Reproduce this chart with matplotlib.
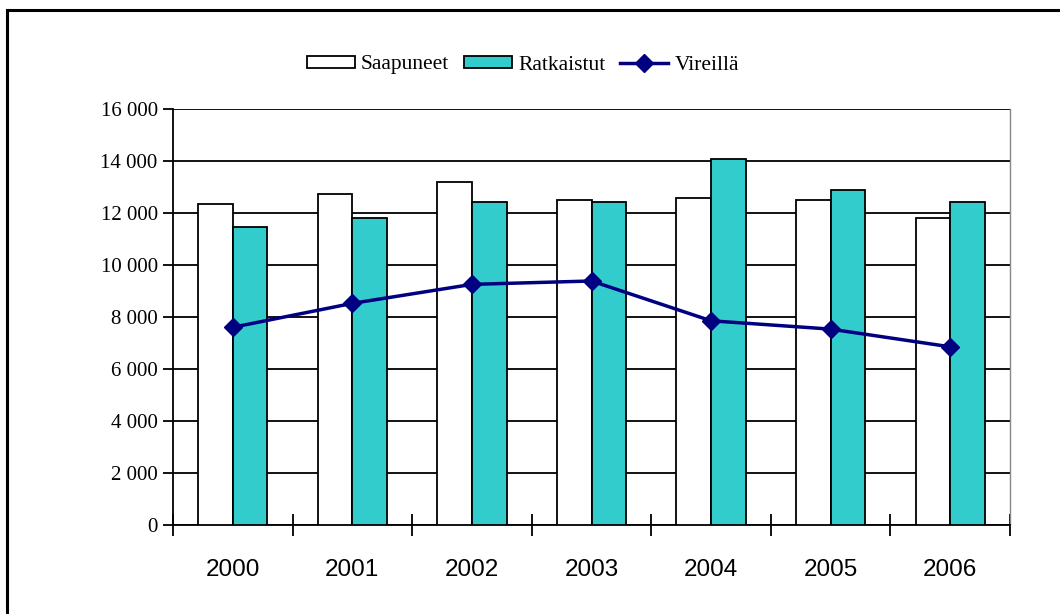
import matplotlib
matplotlib.use("Agg")
import matplotlib.pyplot as plt
import numpy as np
from matplotlib.lines import Line2D
from matplotlib.ticker import FuncFormatter, FixedLocator

years = ["2000", "2001", "2002", "2003", "2004", "2005", "2006"]
saapuneet = [12340, 12720, 13180, 12490, 12590, 12500, 11800]
ratkaistut = [11460, 11820, 12410, 12410, 14080, 12870, 12410]
vireilla = [7610, 8530, 9260, 9390, 7860, 7540, 6860]

fig = plt.figure(figsize=(10.6, 6.14), dpi=100)
ax = fig.add_axes([173/1060, 1 - 525.3/614, (1010-173)/1060, (525.3-109)/614])

x = np.arange(len(years))
w = 0.29
teal = "#33CCCC"
navy = "#000080"

b1 = ax.bar(x - w/2, saapuneet, width=w, color="white", edgecolor="black", linewidth=1.3, zorder=3, label="Saapuneet")
b2 = ax.bar(x + w/2, ratkaistut, width=w, color=teal, edgecolor="black", linewidth=1.3, zorder=3, label="Ratkaistut")
l1, = ax.plot(x, vireilla, color=navy, linewidth=2.5, marker="D", markersize=9, zorder=4, label="Vireillä")

ax.set_xlim(-0.5, len(years) - 0.5)
ax.set_ylim(0, 16000)
ax.set_yticks(np.arange(0, 16001, 2000))
ax.yaxis.set_major_formatter(FuncFormatter(lambda v, p: f"{int(v):,}".replace(",", " ")))
ax.yaxis.grid(True, color="black", linewidth=1.3, zorder=0)
ax.set_axisbelow(True)

ax.xaxis.set_major_locator(FixedLocator(np.arange(-0.5, len(years), 1.0)))
ax.xaxis.set_minor_locator(FixedLocator(x))
ax.set_xticklabels([], minor=False)
ax.set_xticklabels(years, minor=True)
ax.tick_params(axis="x", which="major", direction="inout", length=16, width=1.3, color="black")
ax.tick_params(axis="x", which="minor", length=0, pad=24, labelsize=17.5)
ax.tick_params(axis="y", direction="out", length=7, width=1.3, pad=4, labelsize=15)
for lab in ax.get_xticklabels(minor=True):
    lab.set_fontfamily("Liberation Sans")
for lab in ax.get_yticklabels():
    lab.set_fontfamily("Liberation Serif")

ax.spines["top"].set_visible(False)
ax.spines["right"].set_color("#888888")
ax.spines["right"].set_linewidth(1.0)
ax.spines["left"].set_linewidth(1.3)
ax.spines["bottom"].set_linewidth(1.3)

leg = fig.legend(handles=[b1, b2, l1], labels=["Saapuneet", "Ratkaistut", "Vireillä"],
                 loc="center", bbox_to_anchor=(523/1060, 1 - 65/614), ncol=3, frameon=False,
                 prop={"family": "Liberation Serif", "size": 15.5},
                 handlelength=2.2, handleheight=0.45, handletextpad=0.3, columnspacing=0.7)

# outer frame (top and left edges visible)
fig.add_artist(Line2D([7/1060, 7/1060], [0, 1 - 10/614], transform=fig.transFigure, color="black", linewidth=2.2))
fig.add_artist(Line2D([7/1060, 1], [1 - 10/614, 1 - 10/614], transform=fig.transFigure, color="black", linewidth=2.2))

fig.savefig("out.png", dpi=100)
